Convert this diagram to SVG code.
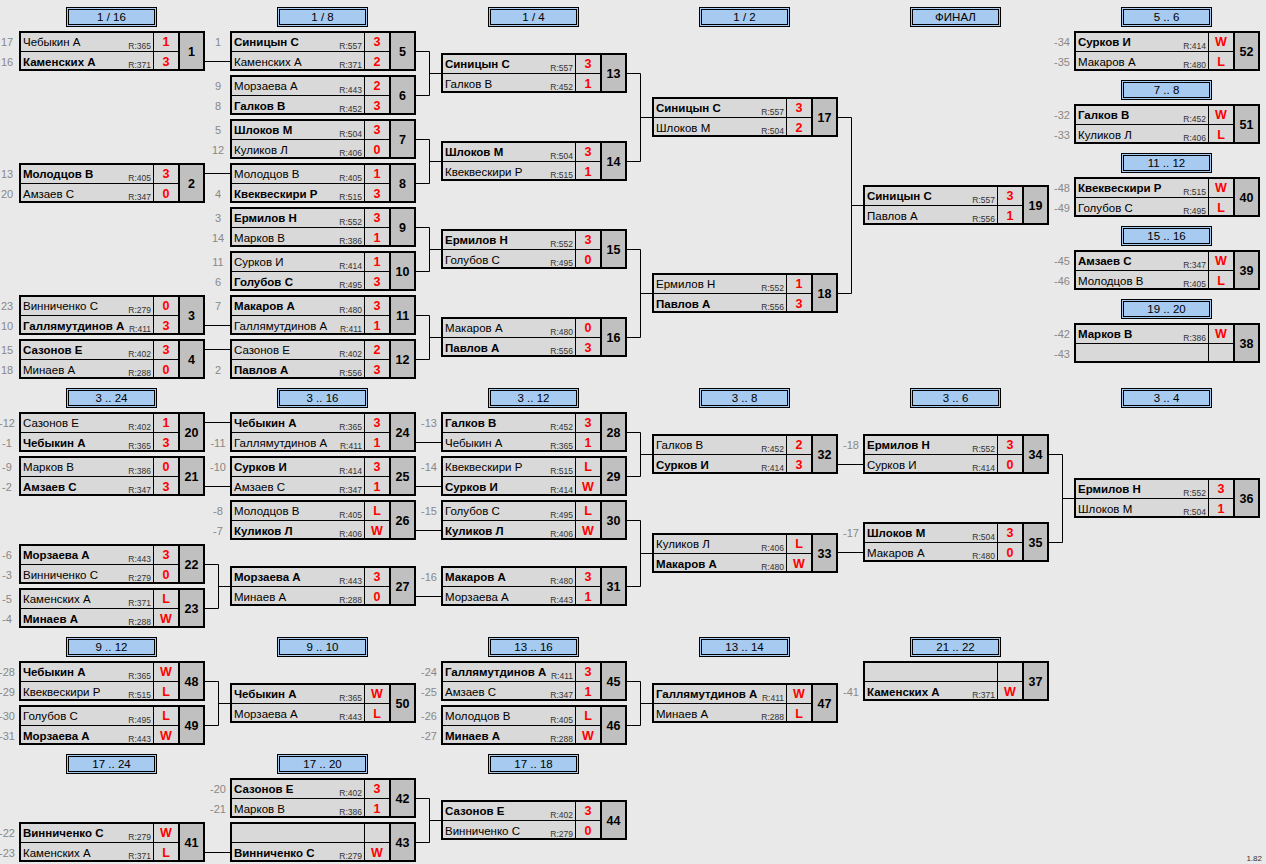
<svg xmlns="http://www.w3.org/2000/svg" xmlns:xlink="http://www.w3.org/1999/xlink" width="1266" height="864" viewBox="0 0 1266 864">
<style>
text{font-family:"Liberation Sans",Arial,sans-serif}
.n{font-size:11.5px;fill:#000}
.b{font-weight:bold}
.r{font-size:8.5px;fill:#333;text-anchor:end}
.s{font-size:12.5px;font-weight:bold;fill:#f00;text-anchor:middle}
.no{font-size:12.5px;font-weight:bold;fill:#000;text-anchor:middle}
.sd{font-size:11px;fill:#888;text-anchor:middle}
.h{font-size:11.5px;fill:#000;text-anchor:middle}
.cn{fill:none;stroke:#000;stroke-width:1}
.ver{font-size:8px;fill:#333;text-anchor:end}
</style>
<defs>
<g id="box">
<rect x="1" y="1" width="184" height="38" fill="#d9d9d9" stroke="#000" stroke-width="2"/>
<rect x="160" y="1" width="25" height="38" fill="#c0c0c0" stroke="#000" stroke-width="2"/>
<path d="M2 20.5H159M134.5 2V38" stroke="#000" stroke-width="1" fill="none"/>
</g>
<g id="hdr">
<rect x="0.5" y="0.5" width="90" height="19" fill="#a6caf0" stroke="#000"/>
<rect x="2.5" y="2.5" width="86" height="15" fill="none" stroke="#000"/>
</g>
</defs>
<rect width="1266" height="864" fill="#e9e9e9"/>

<g id="headers">
<g transform="translate(66,7)"><use href="#hdr"/><text class="h" x="45.5" y="14">1 / 16</text></g>
<g transform="translate(277,7)"><use href="#hdr"/><text class="h" x="45.5" y="14">1 / 8</text></g>
<g transform="translate(488,7)"><use href="#hdr"/><text class="h" x="45.5" y="14">1 / 4</text></g>
<g transform="translate(699,7)"><use href="#hdr"/><text class="h" x="45.5" y="14">1 / 2</text></g>
<g transform="translate(910,7)"><use href="#hdr"/><text class="h" x="45.5" y="14">ФИНАЛ</text></g>
<g transform="translate(1121,7)"><use href="#hdr"/><text class="h" x="45.5" y="14">5 .. 6</text></g>
<g transform="translate(1121,80)"><use href="#hdr"/><text class="h" x="45.5" y="14">7 .. 8</text></g>
<g transform="translate(1121,153)"><use href="#hdr"/><text class="h" x="45.5" y="14">11 .. 12</text></g>
<g transform="translate(1121,226)"><use href="#hdr"/><text class="h" x="45.5" y="14">15 .. 16</text></g>
<g transform="translate(1121,299)"><use href="#hdr"/><text class="h" x="45.5" y="14">19 .. 20</text></g>
<g transform="translate(66,388)"><use href="#hdr"/><text class="h" x="45.5" y="14">3 .. 24</text></g>
<g transform="translate(277,388)"><use href="#hdr"/><text class="h" x="45.5" y="14">3 .. 16</text></g>
<g transform="translate(488,388)"><use href="#hdr"/><text class="h" x="45.5" y="14">3 .. 12</text></g>
<g transform="translate(699,388)"><use href="#hdr"/><text class="h" x="45.5" y="14">3 .. 8</text></g>
<g transform="translate(910,388)"><use href="#hdr"/><text class="h" x="45.5" y="14">3 .. 6</text></g>
<g transform="translate(1121,388)"><use href="#hdr"/><text class="h" x="45.5" y="14">3 .. 4</text></g>
<g transform="translate(66,637)"><use href="#hdr"/><text class="h" x="45.5" y="14">9 .. 12</text></g>
<g transform="translate(277,637)"><use href="#hdr"/><text class="h" x="45.5" y="14">9 .. 10</text></g>
<g transform="translate(488,637)"><use href="#hdr"/><text class="h" x="45.5" y="14">13 .. 16</text></g>
<g transform="translate(699,637)"><use href="#hdr"/><text class="h" x="45.5" y="14">13 .. 14</text></g>
<g transform="translate(910,637)"><use href="#hdr"/><text class="h" x="45.5" y="14">21 .. 22</text></g>
<g transform="translate(66,754)"><use href="#hdr"/><text class="h" x="45.5" y="14">17 .. 24</text></g>
<g transform="translate(277,754)"><use href="#hdr"/><text class="h" x="45.5" y="14">17 .. 20</text></g>
<g transform="translate(488,754)"><use href="#hdr"/><text class="h" x="45.5" y="14">17 .. 18</text></g>
</g>

<g id="connectors" class="cn">
<path d="M205 61.5H230M205 173.5H230M205 325.5H230M205 349.5H230"/>
<path d="M416 51.5H429.5V95.5H416M429.5 73.5H441"/>
<path d="M416 139.5H429.5V183.5H416M429.5 161.5H441"/>
<path d="M416 227.5H429.5V271.5H416M429.5 249.5H441"/>
<path d="M416 315.5H429.5V359.5H416M429.5 337.5H441"/>
<path d="M627 73.5H640.5V161.5H627M640.5 117.5H652"/>
<path d="M627 249.5H640.5V337.5H627M640.5 293.5H652"/>
<path d="M838 117.5H851.5V293.5H838M851.5 205.5H863"/>
<path d="M205 422.5H230M205 486.5H230"/>
<path d="M205 564.5H218.5V608.5H205M218.5 586.5H230"/>
<path d="M416 442.5H441M416 486.5H441M416 530.5H441M416 596.5H441"/>
<path d="M627 432.5H640.5V476.5H627M640.5 454.5H652"/>
<path d="M627 520.5H640.5V586.5H627M640.5 553.5H652"/>
<path d="M838 464.5H863M838 552.5H863"/>
<path d="M1049 454.5H1062.5V542.5H1049M1062.5 498.5H1074"/>
<path d="M205 681.5H218.5V725.5H205M218.5 703.5H230"/>
<path d="M627 681.5H640.5V725.5H627M640.5 703.5H652"/>
<path d="M205 852.5H230"/>
<path d="M416 798.5H429.5V842.5H416M429.5 820.5H441"/>
</g>

<g id="m1" transform="translate(19,31)"><use href="#box"/>
<text class="sd" x="-12" y="15">17</text><text class="sd" x="-12" y="34.5">16</text>
<text class="n" x="4" y="15">Чебыкин А</text><text class="r" x="132" y="18">R:365</text><text class="s" x="147" y="15">1</text>
<text class="n b" x="4" y="34.5">Каменских А</text><text class="r" x="132" y="36.5">R:371</text><text class="s" x="147" y="34.5">3</text>
<text class="no" x="172.5" y="24.5">1</text></g>

<g id="m2" transform="translate(19,163)"><use href="#box"/>
<text class="sd" x="-12" y="15">13</text><text class="sd" x="-12" y="34.5">20</text>
<text class="n b" x="4" y="15">Молодцов В</text><text class="r" x="132" y="18">R:405</text><text class="s" x="147" y="15">3</text>
<text class="n" x="4" y="34.5">Амзаев С</text><text class="r" x="132" y="36.5">R:347</text><text class="s" x="147" y="34.5">0</text>
<text class="no" x="172.5" y="24.5">2</text></g>

<g id="m3" transform="translate(19,295)"><use href="#box"/>
<text class="sd" x="-12" y="15">23</text><text class="sd" x="-12" y="34.5">10</text>
<text class="n" x="4" y="15">Винниченко С</text><text class="r" x="132" y="18">R:279</text><text class="s" x="147" y="15">0</text>
<text class="n b" x="4" y="34.5">Галлямутдинов А</text><text class="r" x="132" y="36.5">R:411</text><text class="s" x="147" y="34.5">3</text>
<text class="no" x="172.5" y="24.5">3</text></g>

<g id="m4" transform="translate(19,339)"><use href="#box"/>
<text class="sd" x="-12" y="15">15</text><text class="sd" x="-12" y="34.5">18</text>
<text class="n b" x="4" y="15">Сазонов Е</text><text class="r" x="132" y="18">R:402</text><text class="s" x="147" y="15">3</text>
<text class="n" x="4" y="34.5">Минаев А</text><text class="r" x="132" y="36.5">R:288</text><text class="s" x="147" y="34.5">0</text>
<text class="no" x="172.5" y="24.5">4</text></g>

<g id="m5" transform="translate(230,31)"><use href="#box"/>
<text class="sd" x="-12" y="15">1</text>
<text class="n b" x="4" y="15">Синицын С</text><text class="r" x="132" y="18">R:557</text><text class="s" x="147" y="15">3</text>
<text class="n" x="4" y="34.5">Каменских А</text><text class="r" x="132" y="36.5">R:371</text><text class="s" x="147" y="34.5">2</text>
<text class="no" x="172.5" y="24.5">5</text></g>

<g id="m6" transform="translate(230,75)"><use href="#box"/>
<text class="sd" x="-12" y="15">9</text><text class="sd" x="-12" y="34.5">8</text>
<text class="n" x="4" y="15">Морзаева А</text><text class="r" x="132" y="18">R:443</text><text class="s" x="147" y="15">2</text>
<text class="n b" x="4" y="34.5">Галков В</text><text class="r" x="132" y="36.5">R:452</text><text class="s" x="147" y="34.5">3</text>
<text class="no" x="172.5" y="24.5">6</text></g>

<g id="m7" transform="translate(230,119)"><use href="#box"/>
<text class="sd" x="-12" y="15">5</text><text class="sd" x="-12" y="34.5">12</text>
<text class="n b" x="4" y="15">Шлоков М</text><text class="r" x="132" y="18">R:504</text><text class="s" x="147" y="15">3</text>
<text class="n" x="4" y="34.5">Куликов Л</text><text class="r" x="132" y="36.5">R:406</text><text class="s" x="147" y="34.5">0</text>
<text class="no" x="172.5" y="24.5">7</text></g>

<g id="m8" transform="translate(230,163)"><use href="#box"/>
<text class="sd" x="-12" y="34.5">4</text>
<text class="n" x="4" y="15">Молодцов В</text><text class="r" x="132" y="18">R:405</text><text class="s" x="147" y="15">1</text>
<text class="n b" x="4" y="34.5">Квеквескири Р</text><text class="r" x="132" y="36.5">R:515</text><text class="s" x="147" y="34.5">3</text>
<text class="no" x="172.5" y="24.5">8</text></g>

<g id="m9" transform="translate(230,207)"><use href="#box"/>
<text class="sd" x="-12" y="15">3</text><text class="sd" x="-12" y="34.5">14</text>
<text class="n b" x="4" y="15">Ермилов Н</text><text class="r" x="132" y="18">R:552</text><text class="s" x="147" y="15">3</text>
<text class="n" x="4" y="34.5">Марков В</text><text class="r" x="132" y="36.5">R:386</text><text class="s" x="147" y="34.5">1</text>
<text class="no" x="172.5" y="24.5">9</text></g>

<g id="m10" transform="translate(230,251)"><use href="#box"/>
<text class="sd" x="-12" y="15">11</text><text class="sd" x="-12" y="34.5">6</text>
<text class="n" x="4" y="15">Сурков И</text><text class="r" x="132" y="18">R:414</text><text class="s" x="147" y="15">1</text>
<text class="n b" x="4" y="34.5">Голубов С</text><text class="r" x="132" y="36.5">R:495</text><text class="s" x="147" y="34.5">3</text>
<text class="no" x="172.5" y="24.5">10</text></g>

<g id="m11" transform="translate(230,295)"><use href="#box"/>
<text class="sd" x="-12" y="15">7</text>
<text class="n b" x="4" y="15">Макаров А</text><text class="r" x="132" y="18">R:480</text><text class="s" x="147" y="15">3</text>
<text class="n" x="4" y="34.5">Галлямутдинов А</text><text class="r" x="132" y="36.5">R:411</text><text class="s" x="147" y="34.5">1</text>
<text class="no" x="172.5" y="24.5">11</text></g>

<g id="m12" transform="translate(230,339)"><use href="#box"/>
<text class="sd" x="-12" y="34.5">2</text>
<text class="n" x="4" y="15">Сазонов Е</text><text class="r" x="132" y="18">R:402</text><text class="s" x="147" y="15">2</text>
<text class="n b" x="4" y="34.5">Павлов А</text><text class="r" x="132" y="36.5">R:556</text><text class="s" x="147" y="34.5">3</text>
<text class="no" x="172.5" y="24.5">12</text></g>

<g id="m13" transform="translate(441,53)"><use href="#box"/>
<text class="n b" x="4" y="15">Синицын С</text><text class="r" x="132" y="18">R:557</text><text class="s" x="147" y="15">3</text>
<text class="n" x="4" y="34.5">Галков В</text><text class="r" x="132" y="36.5">R:452</text><text class="s" x="147" y="34.5">1</text>
<text class="no" x="172.5" y="24.5">13</text></g>

<g id="m14" transform="translate(441,141)"><use href="#box"/>
<text class="n b" x="4" y="15">Шлоков М</text><text class="r" x="132" y="18">R:504</text><text class="s" x="147" y="15">3</text>
<text class="n" x="4" y="34.5">Квеквескири Р</text><text class="r" x="132" y="36.5">R:515</text><text class="s" x="147" y="34.5">1</text>
<text class="no" x="172.5" y="24.5">14</text></g>

<g id="m15" transform="translate(441,229)"><use href="#box"/>
<text class="n b" x="4" y="15">Ермилов Н</text><text class="r" x="132" y="18">R:552</text><text class="s" x="147" y="15">3</text>
<text class="n" x="4" y="34.5">Голубов С</text><text class="r" x="132" y="36.5">R:495</text><text class="s" x="147" y="34.5">0</text>
<text class="no" x="172.5" y="24.5">15</text></g>

<g id="m16" transform="translate(441,317)"><use href="#box"/>
<text class="n" x="4" y="15">Макаров А</text><text class="r" x="132" y="18">R:480</text><text class="s" x="147" y="15">0</text>
<text class="n b" x="4" y="34.5">Павлов А</text><text class="r" x="132" y="36.5">R:556</text><text class="s" x="147" y="34.5">3</text>
<text class="no" x="172.5" y="24.5">16</text></g>

<g id="m17" transform="translate(652,97)"><use href="#box"/>
<text class="n b" x="4" y="15">Синицын С</text><text class="r" x="132" y="18">R:557</text><text class="s" x="147" y="15">3</text>
<text class="n" x="4" y="34.5">Шлоков М</text><text class="r" x="132" y="36.5">R:504</text><text class="s" x="147" y="34.5">2</text>
<text class="no" x="172.5" y="24.5">17</text></g>

<g id="m18" transform="translate(652,273)"><use href="#box"/>
<text class="n" x="4" y="15">Ермилов Н</text><text class="r" x="132" y="18">R:552</text><text class="s" x="147" y="15">1</text>
<text class="n b" x="4" y="34.5">Павлов А</text><text class="r" x="132" y="36.5">R:556</text><text class="s" x="147" y="34.5">3</text>
<text class="no" x="172.5" y="24.5">18</text></g>

<g id="m19" transform="translate(863,185)"><use href="#box"/>
<text class="n b" x="4" y="15">Синицын С</text><text class="r" x="132" y="18">R:557</text><text class="s" x="147" y="15">3</text>
<text class="n" x="4" y="34.5">Павлов А</text><text class="r" x="132" y="36.5">R:556</text><text class="s" x="147" y="34.5">1</text>
<text class="no" x="172.5" y="24.5">19</text></g>

<g id="m52" transform="translate(1074,31)"><use href="#box"/>
<text class="sd" x="-12" y="15">-34</text><text class="sd" x="-12" y="34.5">-35</text>
<text class="n b" x="4" y="15">Сурков И</text><text class="r" x="132" y="18">R:414</text><text class="s" x="147" y="15">W</text>
<text class="n" x="4" y="34.5">Макаров А</text><text class="r" x="132" y="36.5">R:480</text><text class="s" x="147" y="34.5">L</text>
<text class="no" x="172.5" y="24.5">52</text></g>

<g id="m51" transform="translate(1074,104)"><use href="#box"/>
<text class="sd" x="-12" y="15">-32</text><text class="sd" x="-12" y="34.5">-33</text>
<text class="n b" x="4" y="15">Галков В</text><text class="r" x="132" y="18">R:452</text><text class="s" x="147" y="15">W</text>
<text class="n" x="4" y="34.5">Куликов Л</text><text class="r" x="132" y="36.5">R:406</text><text class="s" x="147" y="34.5">L</text>
<text class="no" x="172.5" y="24.5">51</text></g>

<g id="m40" transform="translate(1074,177)"><use href="#box"/>
<text class="sd" x="-12" y="15">-48</text><text class="sd" x="-12" y="34.5">-49</text>
<text class="n b" x="4" y="15">Квеквескири Р</text><text class="r" x="132" y="18">R:515</text><text class="s" x="147" y="15">W</text>
<text class="n" x="4" y="34.5">Голубов С</text><text class="r" x="132" y="36.5">R:495</text><text class="s" x="147" y="34.5">L</text>
<text class="no" x="172.5" y="24.5">40</text></g>

<g id="m39" transform="translate(1074,250)"><use href="#box"/>
<text class="sd" x="-12" y="15">-45</text><text class="sd" x="-12" y="34.5">-46</text>
<text class="n b" x="4" y="15">Амзаев С</text><text class="r" x="132" y="18">R:347</text><text class="s" x="147" y="15">W</text>
<text class="n" x="4" y="34.5">Молодцов В</text><text class="r" x="132" y="36.5">R:405</text><text class="s" x="147" y="34.5">L</text>
<text class="no" x="172.5" y="24.5">39</text></g>

<g id="m38" transform="translate(1074,323)"><use href="#box"/>
<text class="sd" x="-12" y="15">-42</text><text class="sd" x="-12" y="34.5">-43</text>
<text class="n b" x="4" y="15">Марков В</text><text class="r" x="132" y="18">R:386</text><text class="s" x="147" y="15">W</text>
<text class="no" x="172.5" y="24.5">38</text></g>

<g id="m20" transform="translate(19,412)"><use href="#box"/>
<text class="sd" x="-12" y="15">-12</text><text class="sd" x="-12" y="34.5">-1</text>
<text class="n" x="4" y="15">Сазонов Е</text><text class="r" x="132" y="18">R:402</text><text class="s" x="147" y="15">1</text>
<text class="n b" x="4" y="34.5">Чебыкин А</text><text class="r" x="132" y="36.5">R:365</text><text class="s" x="147" y="34.5">3</text>
<text class="no" x="172.5" y="24.5">20</text></g>

<g id="m21" transform="translate(19,456)"><use href="#box"/>
<text class="sd" x="-12" y="15">-9</text><text class="sd" x="-12" y="34.5">-2</text>
<text class="n" x="4" y="15">Марков В</text><text class="r" x="132" y="18">R:386</text><text class="s" x="147" y="15">0</text>
<text class="n b" x="4" y="34.5">Амзаев С</text><text class="r" x="132" y="36.5">R:347</text><text class="s" x="147" y="34.5">3</text>
<text class="no" x="172.5" y="24.5">21</text></g>

<g id="m22" transform="translate(19,544)"><use href="#box"/>
<text class="sd" x="-12" y="15">-6</text><text class="sd" x="-12" y="34.5">-3</text>
<text class="n b" x="4" y="15">Морзаева А</text><text class="r" x="132" y="18">R:443</text><text class="s" x="147" y="15">3</text>
<text class="n" x="4" y="34.5">Винниченко С</text><text class="r" x="132" y="36.5">R:279</text><text class="s" x="147" y="34.5">0</text>
<text class="no" x="172.5" y="24.5">22</text></g>

<g id="m23" transform="translate(19,588)"><use href="#box"/>
<text class="sd" x="-12" y="15">-5</text><text class="sd" x="-12" y="34.5">-4</text>
<text class="n" x="4" y="15">Каменских А</text><text class="r" x="132" y="18">R:371</text><text class="s" x="147" y="15">L</text>
<text class="n b" x="4" y="34.5">Минаев А</text><text class="r" x="132" y="36.5">R:288</text><text class="s" x="147" y="34.5">W</text>
<text class="no" x="172.5" y="24.5">23</text></g>

<g id="m24" transform="translate(230,412)"><use href="#box"/>
<text class="sd" x="-12" y="34.5">-11</text>
<text class="n b" x="4" y="15">Чебыкин А</text><text class="r" x="132" y="18">R:365</text><text class="s" x="147" y="15">3</text>
<text class="n" x="4" y="34.5">Галлямутдинов А</text><text class="r" x="132" y="36.5">R:411</text><text class="s" x="147" y="34.5">1</text>
<text class="no" x="172.5" y="24.5">24</text></g>

<g id="m25" transform="translate(230,456)"><use href="#box"/>
<text class="sd" x="-12" y="15">-10</text>
<text class="n b" x="4" y="15">Сурков И</text><text class="r" x="132" y="18">R:414</text><text class="s" x="147" y="15">3</text>
<text class="n" x="4" y="34.5">Амзаев С</text><text class="r" x="132" y="36.5">R:347</text><text class="s" x="147" y="34.5">1</text>
<text class="no" x="172.5" y="24.5">25</text></g>

<g id="m26" transform="translate(230,500)"><use href="#box"/>
<text class="sd" x="-12" y="15">-8</text><text class="sd" x="-12" y="34.5">-7</text>
<text class="n" x="4" y="15">Молодцов В</text><text class="r" x="132" y="18">R:405</text><text class="s" x="147" y="15">L</text>
<text class="n b" x="4" y="34.5">Куликов Л</text><text class="r" x="132" y="36.5">R:406</text><text class="s" x="147" y="34.5">W</text>
<text class="no" x="172.5" y="24.5">26</text></g>

<g id="m27" transform="translate(230,566)"><use href="#box"/>
<text class="n b" x="4" y="15">Морзаева А</text><text class="r" x="132" y="18">R:443</text><text class="s" x="147" y="15">3</text>
<text class="n" x="4" y="34.5">Минаев А</text><text class="r" x="132" y="36.5">R:288</text><text class="s" x="147" y="34.5">0</text>
<text class="no" x="172.5" y="24.5">27</text></g>

<g id="m28" transform="translate(441,412)"><use href="#box"/>
<text class="sd" x="-12" y="15">-13</text>
<text class="n b" x="4" y="15">Галков В</text><text class="r" x="132" y="18">R:452</text><text class="s" x="147" y="15">3</text>
<text class="n" x="4" y="34.5">Чебыкин А</text><text class="r" x="132" y="36.5">R:365</text><text class="s" x="147" y="34.5">1</text>
<text class="no" x="172.5" y="24.5">28</text></g>

<g id="m29" transform="translate(441,456)"><use href="#box"/>
<text class="sd" x="-12" y="15">-14</text>
<text class="n" x="4" y="15">Квеквескири Р</text><text class="r" x="132" y="18">R:515</text><text class="s" x="147" y="15">L</text>
<text class="n b" x="4" y="34.5">Сурков И</text><text class="r" x="132" y="36.5">R:414</text><text class="s" x="147" y="34.5">W</text>
<text class="no" x="172.5" y="24.5">29</text></g>

<g id="m30" transform="translate(441,500)"><use href="#box"/>
<text class="sd" x="-12" y="15">-15</text>
<text class="n" x="4" y="15">Голубов С</text><text class="r" x="132" y="18">R:495</text><text class="s" x="147" y="15">L</text>
<text class="n b" x="4" y="34.5">Куликов Л</text><text class="r" x="132" y="36.5">R:406</text><text class="s" x="147" y="34.5">W</text>
<text class="no" x="172.5" y="24.5">30</text></g>

<g id="m31" transform="translate(441,566)"><use href="#box"/>
<text class="sd" x="-12" y="15">-16</text>
<text class="n b" x="4" y="15">Макаров А</text><text class="r" x="132" y="18">R:480</text><text class="s" x="147" y="15">3</text>
<text class="n" x="4" y="34.5">Морзаева А</text><text class="r" x="132" y="36.5">R:443</text><text class="s" x="147" y="34.5">1</text>
<text class="no" x="172.5" y="24.5">31</text></g>

<g id="m32" transform="translate(652,434)"><use href="#box"/>
<text class="n" x="4" y="15">Галков В</text><text class="r" x="132" y="18">R:452</text><text class="s" x="147" y="15">2</text>
<text class="n b" x="4" y="34.5">Сурков И</text><text class="r" x="132" y="36.5">R:414</text><text class="s" x="147" y="34.5">3</text>
<text class="no" x="172.5" y="24.5">32</text></g>

<g id="m33" transform="translate(652,533)"><use href="#box"/>
<text class="n" x="4" y="15">Куликов Л</text><text class="r" x="132" y="18">R:406</text><text class="s" x="147" y="15">L</text>
<text class="n b" x="4" y="34.5">Макаров А</text><text class="r" x="132" y="36.5">R:480</text><text class="s" x="147" y="34.5">W</text>
<text class="no" x="172.5" y="24.5">33</text></g>

<g id="m34" transform="translate(863,434)"><use href="#box"/>
<text class="sd" x="-12" y="15">-18</text>
<text class="n b" x="4" y="15">Ермилов Н</text><text class="r" x="132" y="18">R:552</text><text class="s" x="147" y="15">3</text>
<text class="n" x="4" y="34.5">Сурков И</text><text class="r" x="132" y="36.5">R:414</text><text class="s" x="147" y="34.5">0</text>
<text class="no" x="172.5" y="24.5">34</text></g>

<g id="m35" transform="translate(863,522)"><use href="#box"/>
<text class="sd" x="-12" y="15">-17</text>
<text class="n b" x="4" y="15">Шлоков М</text><text class="r" x="132" y="18">R:504</text><text class="s" x="147" y="15">3</text>
<text class="n" x="4" y="34.5">Макаров А</text><text class="r" x="132" y="36.5">R:480</text><text class="s" x="147" y="34.5">0</text>
<text class="no" x="172.5" y="24.5">35</text></g>

<g id="m36" transform="translate(1074,478)"><use href="#box"/>
<text class="n b" x="4" y="15">Ермилов Н</text><text class="r" x="132" y="18">R:552</text><text class="s" x="147" y="15">3</text>
<text class="n" x="4" y="34.5">Шлоков М</text><text class="r" x="132" y="36.5">R:504</text><text class="s" x="147" y="34.5">1</text>
<text class="no" x="172.5" y="24.5">36</text></g>

<g id="m48" transform="translate(19,661)"><use href="#box"/>
<text class="sd" x="-12" y="15">-28</text><text class="sd" x="-12" y="34.5">-29</text>
<text class="n b" x="4" y="15">Чебыкин А</text><text class="r" x="132" y="18">R:365</text><text class="s" x="147" y="15">W</text>
<text class="n" x="4" y="34.5">Квеквескири Р</text><text class="r" x="132" y="36.5">R:515</text><text class="s" x="147" y="34.5">L</text>
<text class="no" x="172.5" y="24.5">48</text></g>

<g id="m49" transform="translate(19,705)"><use href="#box"/>
<text class="sd" x="-12" y="15">-30</text><text class="sd" x="-12" y="34.5">-31</text>
<text class="n" x="4" y="15">Голубов С</text><text class="r" x="132" y="18">R:495</text><text class="s" x="147" y="15">L</text>
<text class="n b" x="4" y="34.5">Морзаева А</text><text class="r" x="132" y="36.5">R:443</text><text class="s" x="147" y="34.5">W</text>
<text class="no" x="172.5" y="24.5">49</text></g>

<g id="m50" transform="translate(230,683)"><use href="#box"/>
<text class="n b" x="4" y="15">Чебыкин А</text><text class="r" x="132" y="18">R:365</text><text class="s" x="147" y="15">W</text>
<text class="n" x="4" y="34.5">Морзаева А</text><text class="r" x="132" y="36.5">R:443</text><text class="s" x="147" y="34.5">L</text>
<text class="no" x="172.5" y="24.5">50</text></g>

<g id="m45" transform="translate(441,661)"><use href="#box"/>
<text class="sd" x="-12" y="15">-24</text><text class="sd" x="-12" y="34.5">-25</text>
<text class="n b" x="4" y="15">Галлямутдинов А</text><text class="r" x="132" y="18">R:411</text><text class="s" x="147" y="15">3</text>
<text class="n" x="4" y="34.5">Амзаев С</text><text class="r" x="132" y="36.5">R:347</text><text class="s" x="147" y="34.5">1</text>
<text class="no" x="172.5" y="24.5">45</text></g>

<g id="m46" transform="translate(441,705)"><use href="#box"/>
<text class="sd" x="-12" y="15">-26</text><text class="sd" x="-12" y="34.5">-27</text>
<text class="n" x="4" y="15">Молодцов В</text><text class="r" x="132" y="18">R:405</text><text class="s" x="147" y="15">L</text>
<text class="n b" x="4" y="34.5">Минаев А</text><text class="r" x="132" y="36.5">R:288</text><text class="s" x="147" y="34.5">W</text>
<text class="no" x="172.5" y="24.5">46</text></g>

<g id="m47" transform="translate(652,683)"><use href="#box"/>
<text class="n b" x="4" y="15">Галлямутдинов А</text><text class="r" x="132" y="18">R:411</text><text class="s" x="147" y="15">W</text>
<text class="n" x="4" y="34.5">Минаев А</text><text class="r" x="132" y="36.5">R:288</text><text class="s" x="147" y="34.5">L</text>
<text class="no" x="172.5" y="24.5">47</text></g>

<g id="m37" transform="translate(863,661)"><use href="#box"/>
<text class="sd" x="-12" y="34.5">-41</text>
<text class="n b" x="4" y="34.5">Каменских А</text><text class="r" x="132" y="36.5">R:371</text><text class="s" x="147" y="34.5">W</text>
<text class="no" x="172.5" y="24.5">37</text></g>

<g id="m41" transform="translate(19,822)"><use href="#box"/>
<text class="sd" x="-12" y="15">-22</text><text class="sd" x="-12" y="34.5">-23</text>
<text class="n b" x="4" y="15">Винниченко С</text><text class="r" x="132" y="18">R:279</text><text class="s" x="147" y="15">W</text>
<text class="n" x="4" y="34.5">Каменских А</text><text class="r" x="132" y="36.5">R:371</text><text class="s" x="147" y="34.5">L</text>
<text class="no" x="172.5" y="24.5">41</text></g>

<g id="m42" transform="translate(230,778)"><use href="#box"/>
<text class="sd" x="-12" y="15">-20</text><text class="sd" x="-12" y="34.5">-21</text>
<text class="n b" x="4" y="15">Сазонов Е</text><text class="r" x="132" y="18">R:402</text><text class="s" x="147" y="15">3</text>
<text class="n" x="4" y="34.5">Марков В</text><text class="r" x="132" y="36.5">R:386</text><text class="s" x="147" y="34.5">1</text>
<text class="no" x="172.5" y="24.5">42</text></g>

<g id="m43" transform="translate(230,822)"><use href="#box"/>
<text class="n b" x="4" y="34.5">Винниченко С</text><text class="r" x="132" y="36.5">R:279</text><text class="s" x="147" y="34.5">W</text>
<text class="no" x="172.5" y="24.5">43</text></g>

<g id="m44" transform="translate(441,800)"><use href="#box"/>
<text class="n b" x="4" y="15">Сазонов Е</text><text class="r" x="132" y="18">R:402</text><text class="s" x="147" y="15">3</text>
<text class="n" x="4" y="34.5">Винниченко С</text><text class="r" x="132" y="36.5">R:279</text><text class="s" x="147" y="34.5">0</text>
<text class="no" x="172.5" y="24.5">44</text></g>

<text class="ver" x="1262" y="861">1.82</text>
</svg>
